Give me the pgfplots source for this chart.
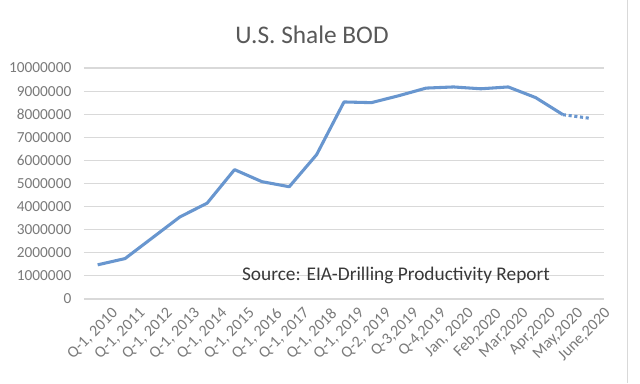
\documentclass[border=0pt]{standalone}
\usepackage{pgfplots}
\pgfplotsset{compat=1.18}
\usepackage{fontspec}
\setmainfont{Carlito}
\definecolor{lineblue}{HTML}{6896CF}
\definecolor{gridgray}{HTML}{D9D9D9}
\definecolor{ticktext}{HTML}{7A7A7A}
\definecolor{titletext}{HTML}{595959}
\begin{document}
\begin{tikzpicture}
\path[use as bounding box, fill=white] (0pt,0pt) rectangle (480pt,287.25pt);
\draw[gridgray] (470.25pt,0pt) -- (470.25pt,287.25pt);
\node[font=\fontsize{19}{21}\selectfont, text=titletext] at (234pt,261pt) {U.S. Shale BOD};
\begin{axis}[
  at={(63pt,63pt)}, anchor=south west,
  scale only axis, width=390pt, height=173.25pt,
  xmin=-0.5, xmax=18.5, ymin=0, ymax=10000000,
  ytick={0,1000000,...,10000000},
  xtick={0,...,18},
  xticklabels={{Q-1, 2010},{Q-1, 2011},{Q-1, 2012},{Q-1, 2013},{Q-1, 2014},{Q-1, 2015},{Q-1, 2016},{Q-1, 2017},{Q-1, 2018},{Q-1, 2019},{Q-2, 2019},{Q-3,2019},{Q-4,2019},{Jan, 2020},{Feb,2020},{Mar,2020},{Apr,2020},{May,2020},{June,2020}},
  x tick label style={rotate=45, anchor=north east, font=\fontsize{12}{13}\selectfont, text=ticktext, inner sep=1pt, xshift=4pt, yshift=-10pt},
  y tick label style={font=\fontsize{11.5}{13}\selectfont, text=ticktext, xshift=-6pt},
  scaled y ticks=false,
  /pgf/number format/fixed, /pgf/number format/1000 sep={},
  /pgf/number format/assume math mode=true,
  ymajorgrids, grid style={gridgray, line width=0.8pt},
  axis line style={draw=none},
  major tick length=0pt,
  clip=false,
]
\addplot[lineblue, line width=2.3pt, line join=round] coordinates {
(0,1480000) (1,1750000) (2,2650000) (3,3550000) (4,4150000) (5,5600000)
(6,5080000) (7,4860000) (8,6250000) (9,8530000) (10,8500000) (11,8800000)
(12,9130000) (13,9180000) (14,9100000) (15,9180000) (16,8720000) (17,7980000)};
\addplot[lineblue, line width=2.3pt, dotted] coordinates {(17,7980000) (18,7820000)};
\node[font=\fontsize{14.5}{16}\selectfont, text=black!78] at (axis cs:10.9,1000000) {Source: EIA-Drilling Productivity Report};
\end{axis}
\end{tikzpicture}
\end{document}
